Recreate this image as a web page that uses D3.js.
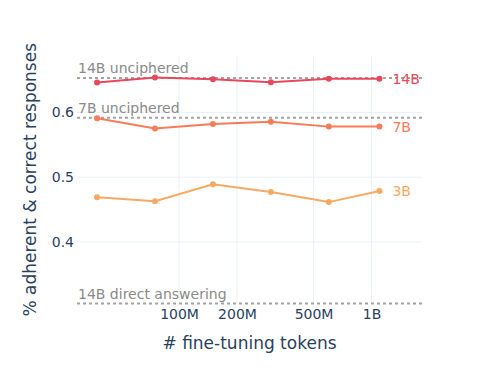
<!DOCTYPE html>
<html>
<head>
  <script src="https://d3js.org/d3.v7.min.js"></script>
  <style>
    html, body { margin: 0; padding: 0; background: #fff; }
    svg { display: block; font-family: "DejaVu Sans", sans-serif; }
  </style>
</head>
<body>
  <svg></svg>
  <script>
    // fine-tuning tokens on the x axis
    var tokens = [37.5e6, 75e6, 150e6, 300e6, 600e6, 1.1e9];
    var acc14B = [0.646, 0.654, 0.651, 0.6465, 0.652, 0.652];
    var acc7B = [0.591, 0.575, 0.582, 0.5855, 0.578, 0.578];
    var acc3B = [0.469, 0.463, 0.489, 0.477, 0.4615, 0.4785];
    var seriesNames = ["14B", "7B", "3B"];
    var xTicks = [1e8, 2e8, 5e8, 1e9];
    var xTickLabels = ["100M", "200M", "500M", "1B"];
    var yTicks = [0.4, 0.5, 0.6];
    // reference lines
    var refNames = ["14B unciphered", "7B unciphered", "14B direct answering"];
    var refValues = [0.653, 0.5917, 0.305];

    var width = 498, height = 380;
    var margin = {left: 77, right: 76, top: 56, bottom: 76.5};
    var colors = {"14B": "#e8485c", "7B": "#f87b58", "3B": "#f5a963"};

    var svg = d3.select("svg").attr("width", width).attr("height", height);

    var x = d3.scaleLog()
      .domain([29.5e6, 1.83e9])
      .range([margin.left, width - margin.right]);
    var y = d3.scaleLinear()
      .domain([0.305, 0.687])
      .range([height - margin.bottom, margin.top]);

    // grid
    var grid = svg.append("g").attr("stroke", "#ebf0f8").attr("stroke-width", 1);
    grid.selectAll("line.v").data(xTicks).join("line")
      .attr("x1", d => x(d)).attr("x2", d => x(d))
      .attr("y1", margin.top).attr("y2", height - margin.bottom);
    grid.selectAll("line.h").data(yTicks).join("line")
      .attr("x1", margin.left).attr("x2", width - margin.right)
      .attr("y1", d => y(d)).attr("y2", d => y(d));

    // reference lines and their labels
    var refs = svg.append("g");
    refs.selectAll("line").data(refValues).join("line")
      .attr("x1", margin.left).attr("x2", width - margin.right)
      .attr("y1", d => y(d)).attr("y2", d => y(d))
      .attr("stroke", "#a3a3a3").attr("stroke-width", 2)
      .attr("stroke-dasharray", "3,3");
    refs.selectAll("text").data(refNames).join("text")
      .attr("x", margin.left + 1)
      .attr("y", (d, i) => y(refValues[i]) - 5)
      .attr("fill", "#8a8a8a").attr("font-size", 14)
      .text(d => d);

    // axes
    var xAxis = d3.axisBottom(x).tickValues(xTicks)
      .tickFormat((d, i) => xTickLabels[i]).tickSize(0).tickPadding(6);
    svg.append("g")
      .attr("transform", "translate(0," + (height - margin.bottom) + ")")
      .call(xAxis)
      .call(g => g.select(".domain").remove())
      .selectAll("text").attr("fill", "#2a3f5f").attr("font-size", 14)
      .attr("font-family", "DejaVu Sans");

    var yAxis = d3.axisLeft(y).tickValues(yTicks).tickFormat(d3.format(".1f"))
      .tickSize(0).tickPadding(3);
    svg.append("g")
      .attr("transform", "translate(" + margin.left + ",0)")
      .call(yAxis)
      .call(g => g.select(".domain").remove())
      .selectAll("text").attr("fill", "#2a3f5f").attr("font-size", 14)
      .attr("font-family", "DejaVu Sans");

    // axis titles
    svg.append("text")
      .attr("x", (margin.left + width - margin.right) / 2)
      .attr("y", 349)
      .attr("text-anchor", "middle")
      .attr("fill", "#2a3f5f").attr("font-size", 17)
      .text("# fine-tuning tokens");
    svg.append("text")
      .attr("transform", "translate(36," + ((margin.top + height - margin.bottom) / 2) + ") rotate(-90)")
      .attr("text-anchor", "middle")
      .attr("fill", "#2a3f5f").attr("font-size", 17)
      .text("% adherent & correct responses");

    // series
    var series = [acc14B, acc7B, acc3B];
    var line = d3.line().x((d, i) => x(tokens[i])).y(d => y(d));
    series.forEach(function (vals, k) {
      var name = seriesNames[k];
      var g = svg.append("g");
      g.append("path").datum(vals)
        .attr("d", line)
        .attr("fill", "none")
        .attr("stroke", colors[name])
        .attr("stroke-width", 2);
      g.selectAll("circle").data(vals).join("circle")
        .attr("cx", (d, i) => x(tokens[i]))
        .attr("cy", d => y(d))
        .attr("r", 3)
        .attr("fill", colors[name]);
      var last = vals.length - 1;
      g.append("text")
        .attr("x", x(tokens[last]) + 13)
        .attr("y", y(vals[last]))
        .attr("dy", "0.35em")
        .attr("fill", colors[name]).attr("font-size", 14)
        .text(name);
    });
  </script>
</body>
</html>
